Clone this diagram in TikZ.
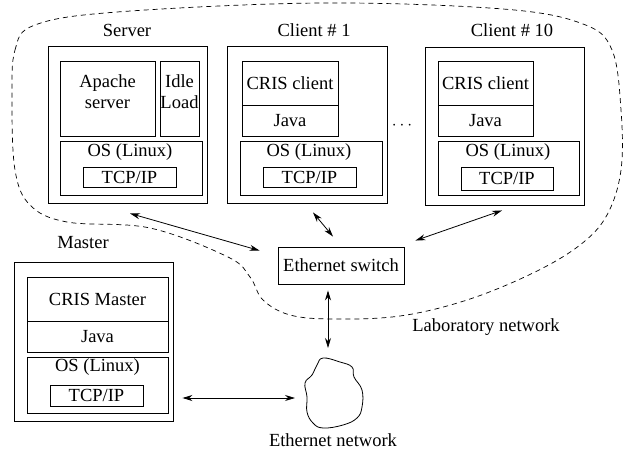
\documentclass[tikz,border=0pt]{standalone}
\usepackage{fontspec}
\setmainfont{Liberation Serif}
\usetikzlibrary{arrows.meta, calc, positioning}

\tikzset{
  box/.style = {draw, line width=0.9pt, inner sep=0pt},
  lbl/.style = {inner sep=0pt, align=center},
  link/.style = {{Stealth[length=10pt,width=6pt]}-{Stealth[length=10pt,width=6pt]}, line width=0.8pt},
}

\begin{document}
\begin{tikzpicture}[x=1pt, y=-1pt, every node/.style = {font=\fontsize{18.5}{21}\selectfont}]
        \useasboundingbox (0,0) rectangle (623,452);

        % laboratory network
        \draw[dash pattern=on 5pt off 4pt, line width=0.7pt] plot[smooth cycle, tension=0.6] coordinates {
            (12,100) (15,50) (35,25) (117,12) (320,3) (503,9) (583,24) (612,50) (621,110)
            (621,170) (607,215) (580,245) (533,273) (467,300) (400,316) (333,319) (290,315)
            (263,300) (250,277) (228,257) (150,228) (67,222) (30,205) (15,170)};
        \node[lbl] (Nlab) at (486,327) {Laboratory network};

        % server
        \node[lbl] (Lserver) at (127,30) {Server};
        \node[box, minimum width=159pt, minimum height=157pt] (Nserver) at (127.5,124.5) {};
        \node[box, minimum width=95pt, minimum height=75pt] (Napache) at (107.5,98.5) {};
        \node[lbl] at (107.5,92) {Apache\\server};
        \node[box, minimum width=39pt, minimum height=75pt] (Nidle) at (179.5,98.5) {};
        \node[lbl] at (179.5,92) {Idle\\Load};
        \node[box, minimum width=142pt, minimum height=54pt] (Nsos) at (131,168) {};
        \node[lbl] at (130,152) {OS (Linux)};
        \node[box, minimum width=93pt, minimum height=20pt] (Nstcp) at (129.5,177) {TCP/IP};

        % client 1
        \node[lbl] (Lclient1) at (314,30) {Client \# 1};
        \node[box, minimum width=160pt, minimum height=157pt] (Nclient1) at (307,124.5) {};
        \node[box, minimum width=96pt, minimum height=44pt] (Ncris1) at (290,83) {CRIS client};
        \node[box, minimum width=96pt, minimum height=31pt] (Njava1) at (290,120.5) {Java};
        \node[box, minimum width=142pt, minimum height=54pt] (Nos1) at (311,168) {};
        \node[lbl] at (309,152) {OS (Linux)};
        \node[box, minimum width=93pt, minimum height=20pt] (Ntcp1) at (309.5,177) {TCP/IP};

        \node[lbl] (Ndots) at (402,126) {$\cdots$};

        % client 10
        \node[lbl] (Lclient10) at (512,30) {Client \# 10};
        \node[box, minimum width=159pt, minimum height=158pt] (Nclient10) at (504.5,126) {};
        \node[box, minimum width=95pt, minimum height=44pt] (Ncris10) at (485.5,83) {CRIS client};
        \node[box, minimum width=95pt, minimum height=31pt] (Njava10) at (485.5,120.5) {Java};
        \node[box, minimum width=141pt, minimum height=54pt] (Nos10) at (508.5,168) {};
        \node[lbl] at (508,152) {OS (Linux)};
        \node[box, minimum width=92pt, minimum height=23pt] (Ntcp10) at (507,178.5) {TCP/IP};

        % master
        \node[lbl] (Lmaster) at (83,243) {Master};
        \node[box, minimum width=159pt, minimum height=159pt] (Nmaster) at (93.5,341.5) {};
        \node[box, minimum width=141pt, minimum height=44pt] (Ncrism) at (97.5,299) {CRIS Master};
        \node[box, minimum width=141pt, minimum height=31pt] (Njavam) at (97.5,336.5) {Java};
        \node[box, minimum width=141pt, minimum height=56pt] (Nosm) at (97.5,385) {};
        \node[lbl] at (97.5,367) {OS (Linux)};
        \node[box, minimum width=93pt, minimum height=21pt] (Ntcpm) at (96.5,395.5) {TCP/IP};

        % switch and outside network
        \node[box, minimum width=126pt, minimum height=37pt] (Nswitch) at (341,265.5) {Ethernet switch};
        \coordinate (Ncloud) at (333,393);
        \draw[line width=0.8pt] plot[smooth cycle, tension=0.7] coordinates {
            (323,358) (340,362) (352,367) (354,377) (362,390) (362,407) (357,418) (343,425)
            (323,428) (313,423) (307,412) (307,397) (305,383) (312,375) (317,365)};
        \node[lbl] (Lcloud) at (333,440) {Ethernet network};

        \draw[link] ([shift={(2.5,10)}]Nserver.south) -- ([shift={(-18,4)}]Nswitch.north west);
        \draw[link] ([shift={(6,9)}]Nclient1.south) -- ([shift={(-8,-10)}]Nswitch.north);
        \draw[link] ([shift={(-2.5,5)}]Nclient10.south) -- ([shift={(11,-6)}]Nswitch.north east);
        \draw[link] ([shift={(-13,6)}]Nswitch.south) -- ([shift={(-5,-45)}]Ncloud);
        \draw[link] ([shift={(9,56.5)}]Nmaster.east) -- ([shift={(-38,5)}]Ncloud);
\end{tikzpicture}
\end{document}
